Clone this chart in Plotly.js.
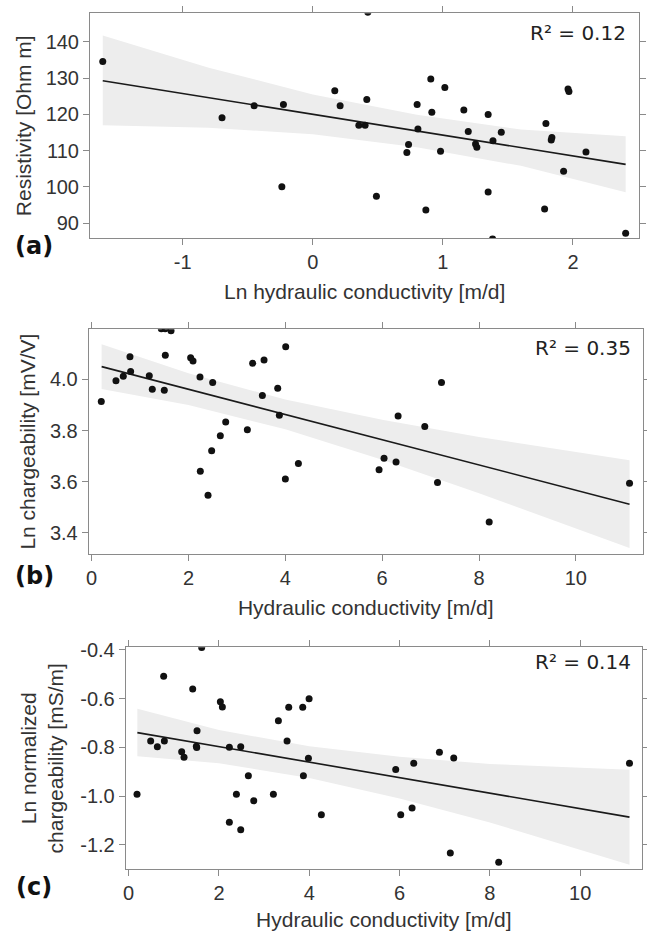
<!DOCTYPE html>
<html><head><meta charset="utf-8">
<script src="https://cdn.plot.ly/plotly-3.0.1.min.js"></script>
<style>html,body{margin:0;padding:0;background:#fff;}#chart{width:647px;height:931px;}</style>
</head><body><div id="chart"></div><script>
// ---- Panel (a): resistivity vs ln hydraulic conductivity ----
const aX = [-1.615,-0.698,-0.451,-0.226,-0.238,0.169,0.21,0.354,0.402,0.415,0.423,0.489,0.723,0.736,0.802,0.808,0.869,0.907,0.915,0.982,1.015,1.161,1.195,1.251,1.261,1.348,1.348,1.382,1.385,1.449,1.782,1.792,1.833,1.838,1.928,1.962,1.969,2.1,2.405];
const aY = [134.6,119.1,122.4,122.7,100.0,126.5,122.4,117.0,117.0,124.1,148.2,97.4,109.5,111.7,122.7,116.0,93.6,129.8,120.6,109.8,127.4,121.2,115.3,111.8,110.9,120.0,98.6,85.6,112.7,115.1,93.9,117.5,112.9,113.6,104.3,127.0,126.3,109.6,87.2];
const aFitX = [-1.615, 2.405];
const aFitY = [129.3, 106.2];
const aBandX = [-1.615,-0.8,0,0.8,1.6,2.405];
const aBandUp = [141.8,132.9,125.5,119.9,115.8,114.0];
const aBandLo = [117.0,116.3,114.5,110.9,105.8,98.5];
const aXTickVals = [-1,0,1,2];
const aXTickText = ['-1','0','1','2'];
const aYTickVals = [90,100,110,120,130,140];
const aYTickText = ['90','100','110','120','130','140'];

// ---- Panel (b): ln chargeability vs hydraulic conductivity ----
const bX = [0.2,0.503,0.654,0.792,0.806,1.191,1.253,1.44,1.52,1.64,1.522,1.501,2.045,2.094,2.238,2.5,2.245,2.404,2.479,2.658,2.769,3.216,3.326,3.561,3.526,3.843,3.877,4.008,4.001,4.27,5.936,6.039,6.287,6.329,6.88,7.143,7.225,8.21,11.108];
const bY = [3.914,3.995,4.012,4.089,4.031,4.014,3.961,4.198,4.198,4.19,4.094,3.958,4.085,4.072,4.009,3.988,3.641,3.547,3.721,3.78,3.833,3.803,4.063,4.076,3.937,3.965,3.86,4.128,3.61,3.671,3.647,3.692,3.677,3.857,3.816,3.597,3.988,3.442,3.594];
const bFitX = [0.207, 11.108];
const bFitY = [4.050, 3.512];
const bBandX = [0.207,2,4,6,8,11.108];
const bBandUp = [4.138,4.024,3.921,3.842,3.775,3.684];
const bBandLo = [3.962,3.900,3.805,3.686,3.555,3.340];
const bXTickVals = [0,2,4,6,8,10];
const bXTickText = ['0','2','4','6','8','10'];
const bYTickVals = [3.4,3.6,3.8,4.0];
const bYTickText = ['3.4','3.6','3.8','4.0'];

// ---- Panel (c): ln normalized chargeability vs hydraulic conductivity ----
const cX = [0.185,0.487,0.635,0.775,0.79,1.174,1.226,1.418,1.514,1.499,1.507,1.617,2.031,2.075,2.23,2.23,2.386,2.482,2.482,2.651,2.77,3.205,3.316,3.545,3.508,3.855,3.87,3.996,3.981,4.268,5.915,6.026,6.277,6.314,6.883,7.2,7.124,8.196,11.093];
const cY = [-0.992,-0.773,-0.797,-0.508,-0.773,-0.818,-0.84,-0.56,-0.731,-0.795,-0.80,-0.39,-0.612,-0.634,-0.799,-1.107,-0.992,-0.797,-1.138,-0.916,-1.019,-0.992,-0.69,-0.635,-0.773,-0.635,-0.916,-0.6,-0.844,-1.076,-0.89,-1.076,-1.048,-0.865,-0.82,-0.843,-1.233,-1.271,-0.865];
const cFitX = [0.192, 11.093];
const cFitY = [-0.739, -1.086];
const cBandX = [0.192,2,4,6,8,11.093];
const cBandUp = [-0.6415,-0.7285,-0.7951,-0.8378,-0.8675,-0.891];
const cBandLo = [-0.8365,-0.8645,-0.9251,-1.0098,-1.1075,-1.281];
const cXTickVals = [0,2,4,6,8,10];
const cXTickText = ['0','2','4','6','8','10'];
const cYTickVals = [-1.2,-1.0,-0.8,-0.6,-0.4];
const cYTickText = ['-1.2','-1.0','-0.8','-0.6','-0.4'];

const W = 647, H = 931;
const px = v => v / W;
const py = v => 1 - v / H;

function panel(xs, ys, fitX, fitY, bandX, up, lo, xa, ya) {
  return [
    {x: bandX.concat(bandX.slice().reverse()), y: up.concat(lo.slice().reverse()),
     type: 'scatter', mode: 'lines', fill: 'toself', fillcolor: '#ededed',
     line: {width: 0, color: '#ededed'}, hoverinfo: 'skip', xaxis: xa, yaxis: ya},
    {x: fitX, y: fitY, type: 'scatter', mode: 'lines',
     line: {color: '#1a1a1a', width: 1.6}, xaxis: xa, yaxis: ya},
    {x: xs, y: ys, type: 'scatter', mode: 'markers',
     marker: {color: '#111', size: 7}, xaxis: xa, yaxis: ya}
  ];
}

const data = [].concat(
  panel(aX, aY, aFitX, aFitY, aBandX, aBandUp, aBandLo, 'x', 'y'),
  panel(bX, bY, bFitX, bFitY, bBandX, bBandUp, bBandLo, 'x2', 'y2'),
  panel(cX, cY, cFitX, cFitY, cBandX, cBandUp, cBandLo, 'x3', 'y3')
);

const tickFont = {family: 'Liberation Sans, Arial, sans-serif', size: 20, color: '#333'};
const titleFont = {family: 'Liberation Sans, Arial, sans-serif', size: 21, color: '#333'};
function ax(extra) {
  return Object.assign({
    showline: true, mirror: 'ticks', linecolor: '#8a8a8a', linewidth: 1,
    ticks: 'outside', ticklen: 6, tickcolor: '#8a8a8a', tickwidth: 1,
    showgrid: false, zeroline: false, tickmode: 'array', tickfont: tickFont,
    automargin: false, fixedrange: true
  }, extra);
}

const layout = {
  width: W, height: H, showlegend: false,
  margin: {l: 0, r: 0, t: 0, b: 0},
  paper_bgcolor: '#fff', plot_bgcolor: '#fff',
  xaxis: ax({domain: [px(90), px(639.3)], range: [-1.713, 2.51], anchor: 'y',
    tickvals: aXTickVals, ticktext: aXTickText,
    title: {text: 'Ln hydraulic conductivity [m/d]', font: titleFont, standoff: 12}}),
  yaxis: ax({domain: [py(238.3), py(13.3)], range: [85.8, 147.9], anchor: 'x',
    tickvals: aYTickVals, ticktext: aYTickText,
    title: {text: 'Resistivity [Ohm m]', font: titleFont, standoff: 8}}),
  xaxis2: ax({domain: [px(88.7), px(642.7)], range: [-0.06, 11.38], anchor: 'y2',
    tickvals: bXTickVals, ticktext: bXTickText,
    title: {text: 'Hydraulic conductivity [m/d]', font: titleFont, standoff: 12}}),
  yaxis2: ax({domain: [py(554), py(329.3)], range: [3.317, 4.196], anchor: 'x2',
    tickvals: bYTickVals, ticktext: bYTickText,
    title: {text: 'Ln chargeability [mV/V]', font: titleFont, standoff: 8}}),
  xaxis3: ax({domain: [px(125.7), px(642)], range: [-0.066, 11.37], anchor: 'y3',
    tickvals: cXTickVals, ticktext: cXTickText,
    title: {text: 'Hydraulic conductivity [m/d]', font: titleFont, standoff: 12}}),
  yaxis3: ax({domain: [py(869.3), py(647.3)], range: [-1.30, -0.389], anchor: 'x3',
    tickvals: cYTickVals, ticktext: cYTickText,
    title: {text: 'Ln normalized<br>chargeability [mS/m]', font: titleFont, standoff: 10}}),
  annotations: [
    {text: 'R² = 0.12', xref: 'paper', yref: 'paper', x: px(628.3), y: py(33.3), xanchor: 'right', yanchor: 'middle', showarrow: false, font: {family: 'DejaVu Sans', size: 20, color: '#222'}},
    {text: 'R² = 0.35', xref: 'paper', yref: 'paper', x: px(632.7), y: py(347.7), xanchor: 'right', yanchor: 'middle', showarrow: false, font: {family: 'DejaVu Sans', size: 20, color: '#222'}},
    {text: 'R² = 0.14', xref: 'paper', yref: 'paper', x: px(633.3), y: py(662.3), xanchor: 'right', yanchor: 'middle', showarrow: false, font: {family: 'DejaVu Sans', size: 20, color: '#222'}},
    {text: '<b>(a)</b>', xref: 'paper', yref: 'paper', x: px(34), y: py(246), xanchor: 'center', yanchor: 'middle', showarrow: false, font: {family: 'DejaVu Sans', size: 24, color: '#111'}},
    {text: '<b>(b)</b>', xref: 'paper', yref: 'paper', x: px(34), y: py(576), xanchor: 'center', yanchor: 'middle', showarrow: false, font: {family: 'DejaVu Sans', size: 24, color: '#111'}},
    {text: '<b>(c)</b>', xref: 'paper', yref: 'paper', x: px(34), y: py(887), xanchor: 'center', yanchor: 'middle', showarrow: false, font: {family: 'DejaVu Sans', size: 24, color: '#111'}}
  ]
};

Plotly.newPlot('chart', data, layout, {displayModeBar: false, staticPlot: true});
</script></body></html>
